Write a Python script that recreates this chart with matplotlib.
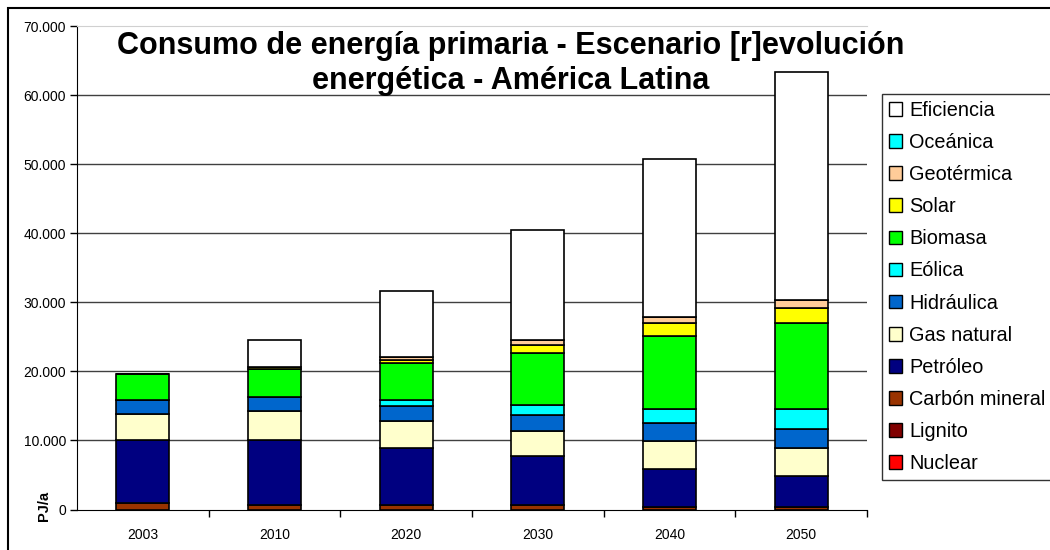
import matplotlib
matplotlib.use("Agg")
import matplotlib.pyplot as plt
from matplotlib.patches import Rectangle, Patch
from matplotlib.ticker import FuncFormatter, FixedLocator
import numpy as np

plt.rcParams['font.family'] = ['Liberation Sans', 'DejaVu Sans']

years = ["2003", "2010", "2020", "2030", "2040", "2050"]

# PJ/a, stacked bottom -> top
nuclear        = [0, 0, 0, 0, 0, 0]
lignito        = [0, 0, 0, 0, 0, 0]
carbon_mineral = [970, 680, 580, 580, 340, 340]
petroleo       = [9030, 9320, 8300, 7180, 5570, 4510]
gas_natural    = [3780, 4260, 3930, 3640, 4030, 4070]
hidraulica     = [2040, 2040, 2180, 2280, 2520, 2720]
eolica         = [0, 30, 880, 1400, 2040, 2860]
biomasa        = [3780, 4030, 5290, 7540, 10640, 12430]
solar          = [0, 200, 490, 1160, 1790, 2280]
geotermica     = [0, 140, 390, 730, 920, 1110]
oceanica       = [0, 0, 0, 0, 0, 0]
eficiencia     = [0, 3830, 9600, 15960, 22900, 32950]

series_names = ["Nuclear", "Lignito", "Carbón mineral", "Petróleo", "Gas natural",
                "Hidráulica", "Eólica", "Biomasa", "Solar", "Geotérmica",
                "Oceánica", "Eficiencia"]
series_vals = [nuclear, lignito, carbon_mineral, petroleo, gas_natural,
               hidraulica, eolica, biomasa, solar, geotermica, oceanica, eficiencia]
colors = ["#FF0000", "#800000", "#993300", "#000080", "#FFFFCC",
          "#0066CC", "#00FFFF", "#00FF00", "#FFFF00", "#FFCC99",
          "#00FFFF", "#FFFFFF"]

yticks = [0, 10000, 20000, 30000, 40000, 50000, 60000, 70000]

fig = plt.figure(figsize=(10.5, 5.5), dpi=100)
ax = fig.add_axes([77/1050, 1 - 509.5/550, (867 - 77)/1050, (509.5 - 26)/550])

x = np.arange(len(years))
bottom = np.zeros(len(years))
for name, vals, c in zip(series_names, series_vals, colors):
    v = np.array(vals, dtype=float)
    ax.bar(x, v, width=0.4, bottom=bottom, color=c, edgecolor="black",
           linewidth=1.2, zorder=3)
    bottom += v

ax.set_xlim(-0.5, len(years) - 0.5)
ax.set_ylim(0, 70000)
ax.set_yticks(yticks)
ax.yaxis.set_major_formatter(FuncFormatter(lambda v, p: f"{int(v):,}".replace(",", ".")))
for yv in yticks[1:-1]:
    ax.axhline(yv, color="#404040", linewidth=1.0, zorder=1)
ax.set_xticks(x)
ax.set_xticklabels(years)
ax.xaxis.set_minor_locator(FixedLocator(np.arange(0.5, len(years), 1.0)))
ax.tick_params(axis="x", which="major", length=0, labelsize=10, pad=13)
ax.tick_params(axis="x", which="minor", length=5, width=1, direction="out")
ax.tick_params(axis="y", length=5, width=1, direction="out", labelsize=10, pad=3)

ax.spines["right"].set_visible(False)
ax.spines["top"].set_color("#d0d0d0")
ax.spines["left"].set_color("black")
ax.spines["bottom"].set_color("black")

fig.text(44/1050, 1 - 506/550, "PJ/a", rotation=90, ha="center", va="center",
         fontsize=10.5, fontweight="bold")

fig.text(511/1050, 1 - 46/550, "Consumo de energía primaria - Escenario [r]evolución",
         ha="center", va="center", fontsize=22, fontweight="bold")
fig.text(511/1050, 1 - 81/550, "energética - América Latina",
         ha="center", va="center", fontsize=22, fontweight="bold")

handles = [Patch(facecolor=c, edgecolor="black", linewidth=1.0, label=n)
           for n, c in zip(series_names, colors)][::-1]
leg = fig.legend(handles=handles, loc="upper left",
                 bbox_to_anchor=(882/1050, 1 - 94/550), fontsize=14.3,
                 frameon=True, fancybox=False, edgecolor="black",
                 handlelength=0.68, handleheight=0.68, handletextpad=0.35,
                 labelspacing=0.66, borderpad=0.35, borderaxespad=0)
leg.get_frame().set_linewidth(1.0)

fig.patches.append(Rectangle((8/1050, -0.1), 1.2, 1 - 8/550 + 0.1,
                             transform=fig.transFigure, fill=False,
                             edgecolor="black", linewidth=1.5))

fig.savefig("out.png", dpi=100)
